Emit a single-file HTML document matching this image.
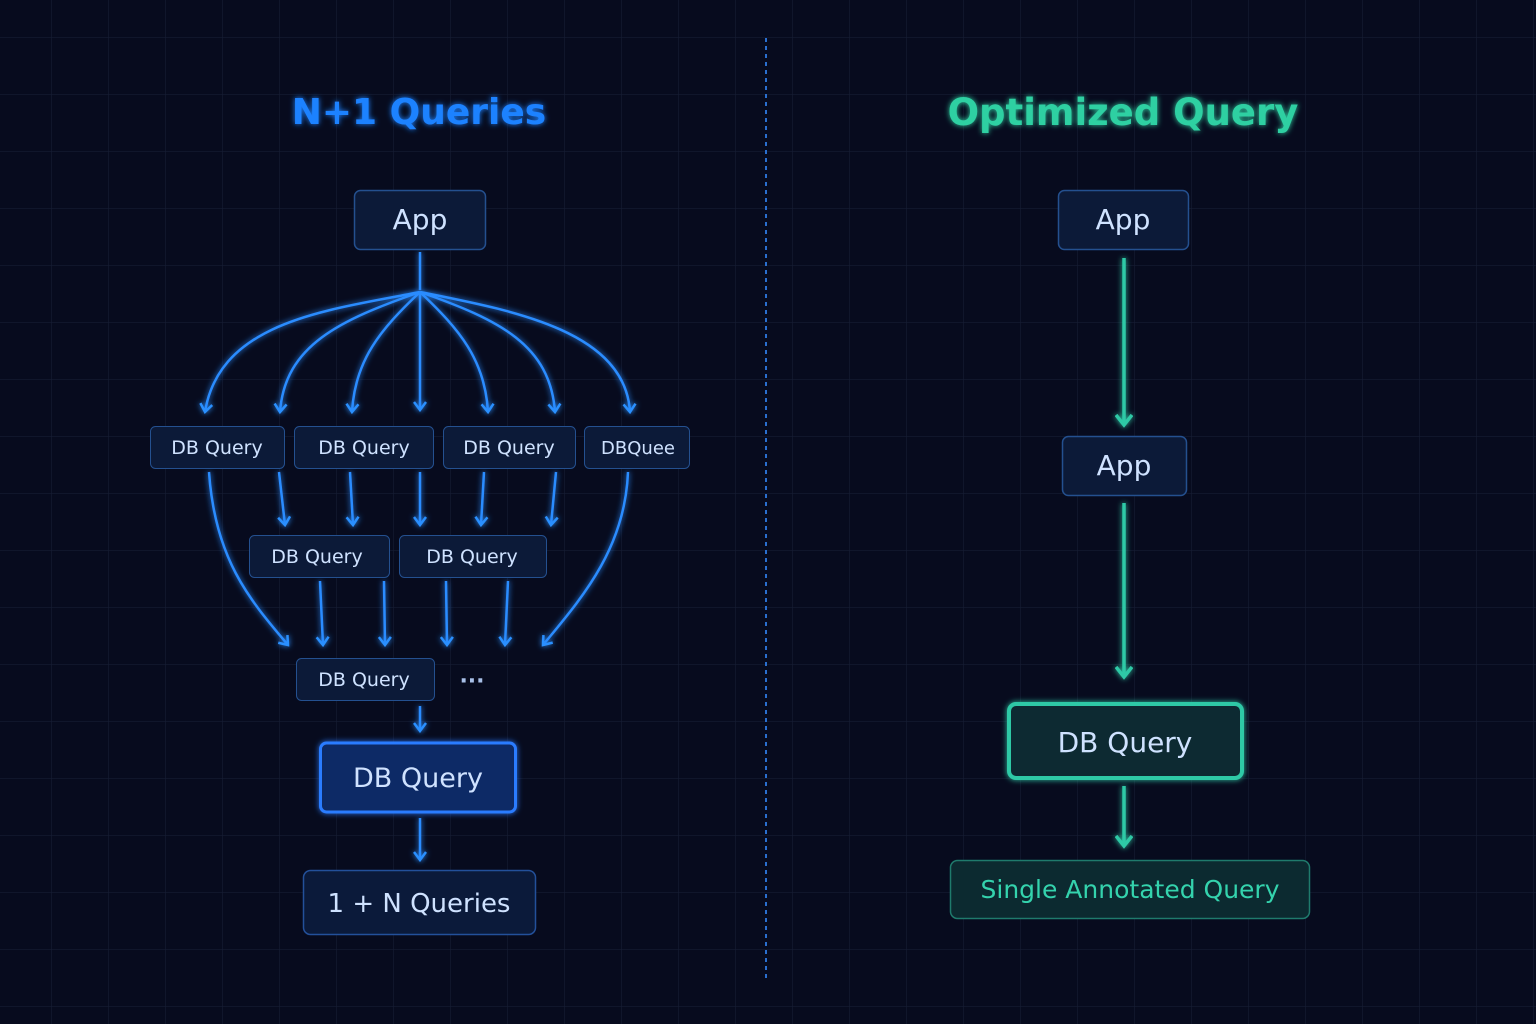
<!DOCTYPE html>
<html><head><meta charset="utf-8"><style>
html,body{margin:0;padding:0;background:#070b1e;}
svg{display:block}
text{font-family:"DejaVu Sans","Liberation Sans",sans-serif;}
</style></head><body>
<svg width="1536" height="1024" viewBox="0 0 1536 1024" xmlns="http://www.w3.org/2000/svg">
<defs>
<pattern id="g" x="-5" y="-19" width="57" height="57" patternUnits="userSpaceOnUse">
<path d="M57 0V57M0 57H57" stroke="#161c33" stroke-width="1.2" fill="none"/>
</pattern>
<filter id="glow" filterUnits="userSpaceOnUse" x="0" y="0" width="1536" height="1024"><feGaussianBlur stdDeviation="3" result="b"/><feMerge><feMergeNode in="b"/><feMergeNode in="SourceGraphic"/></feMerge></filter>
<marker id="ab" viewBox="0 0 12 14" refX="10" refY="7" markerWidth="12" markerHeight="14" markerUnits="userSpaceOnUse" orient="auto">
<path d="M2 1L10 7L2 13" fill="none" stroke="#2a90ff" stroke-width="2.5"/></marker>
<marker id="at" viewBox="0 0 16 18" refX="13" refY="9" markerWidth="16" markerHeight="18" markerUnits="userSpaceOnUse" orient="auto">
<path d="M3 1L13 9L3 17" fill="none" stroke="#2fc9a6" stroke-width="3.5"/></marker>
</defs>
<rect width="1536" height="1024" fill="#070b1e"/>
<rect width="1536" height="1024" fill="url(#g)"/>
<line x1="766" y1="38" x2="766" y2="980" stroke="#2a6fd0" stroke-width="2" stroke-dasharray="4 4"/>

<text x="419" y="124" font-size="36" font-weight="bold" fill="#1f82ff" text-anchor="middle" filter="url(#glow)">N+1 Queries</text>
<text x="1123" y="125" font-size="37" font-weight="bold" fill="#2fd0a2" text-anchor="middle" filter="url(#glow)">Optimized Query</text>

<!-- left connectors -->
<g fill="none" stroke="#2a8cff" stroke-width="2.5" filter="url(#glow)" marker-end="url(#ab)">
<path d="M420 252V290" marker-end="none"/>
<path d="M420 292C330 310 220 320 205 412"/>
<path d="M420 292C340 320 285 345 280 412"/>
<path d="M420 292C380 330 355 360 352 412"/>
<path d="M420 292V410"/>
<path d="M420 292C460 330 485 360 488 412"/>
<path d="M420 292C500 320 550 345 555 412"/>
<path d="M420 292C510 310 625 330 630 412"/>
<path d="M279 472L285 525"/>
<path d="M350 472L353 525"/>
<path d="M420 472V525"/>
<path d="M484 472L481 525"/>
<path d="M556 472L551 525"/>
<path d="M209 472C215 560 250 600 288 645"/>
<path d="M628 472C625 550 580 600 543 645"/>
<path d="M320 581L323 645"/>
<path d="M384 581L385 645"/>
<path d="M446 581L447 645"/>
<path d="M508 581L505 645"/>
<path d="M420 706V731"/>
<path d="M420 818V860"/>
</g>

<!-- left nodes -->
<g font-size="19" fill="#cfe2ff" text-anchor="middle">
<rect x="354.5" y="190.5" width="131" height="59" rx="6" fill="#0c1a38" stroke="#24508f" stroke-width="1.5"/>
<text x="420" y="229" font-size="28">App</text>
<rect x="150.5" y="426.5" width="134" height="42" rx="5" fill="#0c1a38" stroke="#24508f"/>
<text x="217" y="454">DB Query</text>
<rect x="294.5" y="426.5" width="139" height="42" rx="5" fill="#0c1a38" stroke="#24508f"/>
<text x="364" y="454">DB Query</text>
<rect x="443.5" y="426.5" width="132" height="42" rx="5" fill="#0c1a38" stroke="#24508f"/>
<text x="509" y="454">DB Query</text>
<rect x="584.5" y="426.5" width="105" height="42" rx="5" fill="#0c1a38" stroke="#24508f"/>
<text x="638" y="454" font-size="18">DBQuee</text>
<rect x="249.5" y="535.5" width="140" height="42" rx="5" fill="#0c1a38" stroke="#24508f"/>
<text x="317" y="563">DB Query</text>
<rect x="399.5" y="535.5" width="147" height="42" rx="5" fill="#0c1a38" stroke="#24508f"/>
<text x="472" y="563">DB Query</text>
<rect x="296.5" y="658.5" width="138" height="42" rx="5" fill="#0c1a38" stroke="#24508f"/>
<text x="364" y="686">DB Query</text>
<text x="472" y="688" font-size="22" font-weight="bold" fill="#a8c0e8">···</text>
<rect x="320.5" y="743" width="195" height="69" rx="6" fill="#0f2a66" stroke="#2a7cff" stroke-width="3" filter="url(#glow)"/>
<text x="418" y="787" font-size="27">DB Query</text>
<rect x="303.5" y="870.5" width="232" height="64" rx="7" fill="#0b1a3a" stroke="#23509a" stroke-width="1.5"/>
<text x="419" y="912" font-size="26">1 + N Queries</text>
</g>

<!-- right connectors -->
<g fill="none" stroke="#2fc9a6" stroke-width="3.5" filter="url(#glow)" marker-end="url(#at)">
<path d="M1124 258V425"/>
<path d="M1124 503V677"/>
<path d="M1124 786V846"/>
</g>

<!-- right nodes -->
<g text-anchor="middle" fill="#cfe2ff">
<rect x="1058.5" y="190.5" width="130" height="59" rx="6" fill="#0c1a38" stroke="#24508f" stroke-width="1.5"/>
<text x="1123" y="229" font-size="28">App</text>
<rect x="1062.5" y="436.5" width="124" height="59" rx="6" fill="#0c1a38" stroke="#24508f" stroke-width="1.5"/>
<text x="1124" y="475" font-size="28">App</text>
<rect x="1009" y="704" width="233" height="74" rx="7" fill="#0d2a33" stroke="#2fc9a6" stroke-width="4" filter="url(#glow)"/>
<text x="1125" y="752" font-size="28">DB Query</text>
<rect x="950.5" y="860.5" width="359" height="58" rx="7" fill="#0c2a30" stroke="#1f7a6c" stroke-width="1.5"/>
<text x="1130" y="898" font-size="25" fill="#34d3ad">Single Annotated Query</text>
</g>
</svg>
</body></html>
